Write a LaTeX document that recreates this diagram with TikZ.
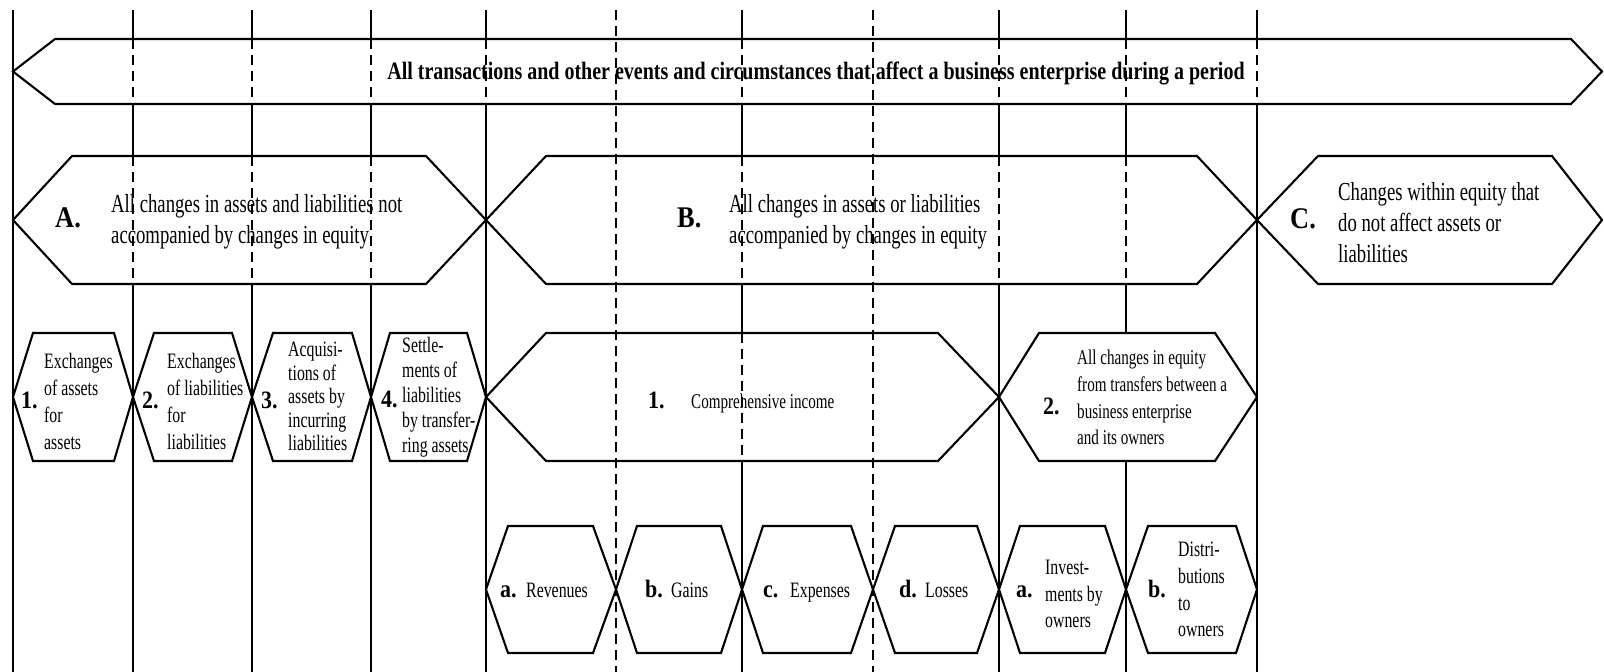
\documentclass[tikz,border=0pt]{standalone}
\usepackage{fontspec}
\setmainfont{Liberation Serif}[FakeStretch=0.72]
\newfontfamily\labfont{Liberation Serif}[FakeStretch=0.88]
\newfontfamily\topfont{Liberation Serif}[FakeStretch=0.80]
\tikzstyle{rule}=[line width=2.4pt]
\tikzstyle{dashrule}=[line width=2.4pt,dash pattern=on 10pt off 6pt]
\tikzstyle{hexa}=[line width=2.1pt,fill=white,line join=miter]
\tikzstyle{toptext}=[inner sep=0pt,anchor=base,font=\fontsize{25}{25}\topfont\bfseries]
\tikzstyle{bigtext}=[inner sep=0pt,anchor=west,align=left,font=\fontsize{26}{31}\selectfont]
\tikzstyle{midtext}=[inner sep=0pt,anchor=west,align=left,font=\fontsize{22}{27}\selectfont]
\tikzstyle{biglabel}=[inner sep=0pt,anchor=base west,font=\fontsize{30}{30}\labfont\bfseries]
\tikzstyle{midlabel}=[inner sep=0pt,anchor=base west,font=\fontsize{25}{25}\labfont\bfseries]
% left tip, right tip, middle y, half height, left slant, right slant
\newcommand{\hexbox}[6]{\draw[hexa] (#1,#3) -- (#1+#5,#3-#4) -- (#2-#6,#3-#4) -- (#2,#3) -- (#2-#6,#3+#4) -- (#1+#5,#3+#4) -- cycle;}

\begin{document}
\begin{tikzpicture}[x=1pt,y=-1pt]
\useasboundingbox (0,0) rectangle (1604,672);
% solid rules
\foreach \x in {13,133,252,371,486,742,999,1126,1257}
  \draw[rule] (\x,10) -- (\x,672);
% top band
\draw[hexa] (13,71.5) -- (55,39) -- (1571,39) -- (1602,71.5) -- (1571,104) -- (55,104) -- cycle;
% row A B C
\hexbox{13}{486}{220}{64}{59}{60}
\hexbox{486}{1257}{220}{64}{60}{60}
\hexbox{1257}{1602}{220}{64}{61}{50}
% row 1 to 4
\hexbox{13}{133}{397}{64}{20}{19}
\hexbox{133}{252}{397}{64}{21}{20}
\hexbox{252}{371}{397}{64}{21}{19}
\hexbox{371}{486}{397}{64}{19}{19}
\hexbox{486}{999}{397}{64}{60}{61}
\hexbox{999}{1257}{397}{64}{40}{42}
% row a to d
\hexbox{486}{616}{589.5}{63.5}{22}{23}
\hexbox{616}{742}{589.5}{63.5}{21}{21}
\hexbox{742}{873}{589.5}{63.5}{21}{22}
\hexbox{873}{999}{589.5}{63.5}{22}{22}
\hexbox{999}{1126}{589.5}{63.5}{21}{21}
\hexbox{1126}{1257}{589.5}{63.5}{22}{21}
% dashed rules
\foreach \x in {616,873}
  \draw[dashrule] (\x,10) -- (\x,672);
\foreach \x in {133,252,371,486,742,999,1126,1257}
  \draw[dashrule] (\x,39) -- (\x,104);
\foreach \x in {133,252,371,742,999,1126}
  \draw[dashrule] (\x,156) -- (\x,284);
\draw[dashrule] (742,333) -- (742,461);

\node[toptext] (period) at (816,79) {All transactions and other events and circumstances that affect a business enterprise during a period};

\node[biglabel] (labA) at (55,227) {A.};
\node[bigtext] (txtA) at (111,222) {All changes in assets and liabilities not\\accompanied by changes in equity};
\node[biglabel] (labB) at (677,227) {B.};
\node[bigtext] (txtB) at (729,222) {All changes in assets or liabilities\\accompanied by changes in equity};
\node[biglabel] (labC) at (1290,228) {C.};
\node[bigtext] (txtC) at (1338,223) {Changes within equity that\\do not affect assets or\\liabilities};

\node[midlabel] (lab1) at (21,408) {1.};
\node[midtext] (txt1) at (44,401.5) {Exchanges\\of assets\\for\\assets};
\node[midlabel] (lab2) at (142,408) {2.};
\node[midtext] (txt2) at (167,401.5) {Exchanges\\of liabilities\\for\\liabilities};
\node[midlabel] (lab3) at (261,408) {3.};
\node[midtext,font=\fontsize{22}{23.5}\selectfont] (txt3) at (288,396.5) {Acquisi-\\tions of\\assets by\\incurring\\liabilities};
\node[midlabel] (lab4) at (381,407) {4.};
\node[midtext,font=\fontsize{22}{25}\selectfont] (txt4) at (402,397.5) {Settle-\\ments of\\liabilities\\by transfer-\\ring assets};
\node[midlabel] (labInc) at (648,408) {1.};
\node[midtext,anchor=base west,font=\fontsize{21}{21}\selectfont] (txtInc) at (691,408) {Comprehensive income};
\node[midlabel] (labOwn) at (1043,414) {2.};
\node[midtext,font=\fontsize{21}{26.7}\selectfont] (txtOwn) at (1077,397.5) {All changes in equity\\from transfers between a\\business enterprise\\and its owners};

\node[midlabel] (labRev) at (500,597) {a.};
\node[midtext,anchor=base west] (txtRev) at (526,597) {Revenues};
\node[midlabel] (labGain) at (645,597) {b.};
\node[midtext,anchor=base west] (txtGain) at (671,597) {Gains};
\node[midlabel] (labExp) at (763,597) {c.};
\node[midtext,anchor=base west] (txtExp) at (790,597) {Expenses};
\node[midlabel] (labLoss) at (899,597) {d.};
\node[midtext,anchor=base west] (txtLoss) at (925,597) {Losses};
\node[midlabel] (labInv) at (1016,597) {a.};
\node[midtext,font=\fontsize{22}{26.5}\selectfont] (txtInv) at (1045,594) {Invest-\\ments by\\owners};
\node[midlabel] (labDist) at (1148,597) {b.};
\node[midtext,font=\fontsize{22}{26.7}\selectfont] (txtDist) at (1178,589.5) {Distri-\\butions\\to\\owners};
\end{tikzpicture}
\end{document}
